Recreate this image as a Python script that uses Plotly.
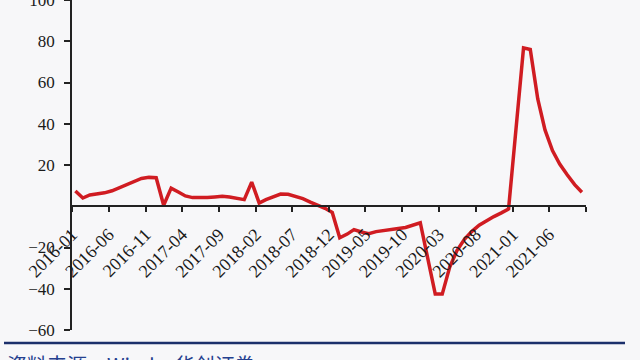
import pandas as pd
import plotly.graph_objects as go

# Monthly observations (Jan-2020 and Jan-2021 not reported)
months = [
    "2016-01", "2016-02", "2016-03", "2016-04", "2016-05", "2016-06",
    "2016-07", "2016-08", "2016-09", "2016-10", "2016-11", "2016-12",
    "2017-01", "2017-02", "2017-03", "2017-04", "2017-05", "2017-06",
    "2017-07", "2017-08", "2017-09", "2017-10", "2017-11", "2017-12",
    "2018-01", "2018-02", "2018-03", "2018-04", "2018-05", "2018-06",
    "2018-07", "2018-08", "2018-09", "2018-10", "2018-11", "2018-12",
    "2019-01", "2019-02", "2019-03", "2019-04", "2019-05", "2019-06",
    "2019-07", "2019-08", "2019-09", "2019-10", "2019-11", "2019-12",
    "2020-02", "2020-03", "2020-04", "2020-05", "2020-06",
    "2020-07", "2020-08", "2020-09", "2020-10", "2020-11", "2020-12",
    "2021-02", "2021-03", "2021-04", "2021-05", "2021-06",
    "2021-07", "2021-08", "2021-09", "2021-10",
]
values = [
    7.4, 4.0, 5.5, 6.0, 6.5, 7.5,
    9.0, 10.5, 12.3, 13.5, 14.0, 13.8,
    0.5, 8.8, 7.0, 5.0, 4.2, 4.0,
    4.2, 4.5, 4.8, 4.5, 3.8, 3.2,
    11.7, 1.6, 3.2, 4.8, 5.9, 5.8,
    4.8, 3.7, 2.0, 0.6, -1.0, -3.0,
    -15.3, -13.5, -11.3, -12.5, -13.3, -12.3,
    -11.7, -11.3, -10.8, -10.3, -9.3, -8.0,
    -42.6, -42.6, -29.5, -21.5, -16.0,
    -12.3, -9.2, -7.0, -5.0, -3.2, -1.3,
    76.8, 76.0, 52.0, 37.0, 27.0,
    20.5, 15.3, 10.5, 6.8,
]

x_tick_months = ["2016-01", "2016-06", "2016-11", "2017-04", "2017-09", "2018-02",
                 "2018-07", "2018-12", "2019-05", "2019-10", "2020-03", "2020-08",
                 "2021-01", "2021-06", "2021-11"]
x_tick_labels = ["2016-01", "2016-06", "2016-11", "2017-04", "2017-09", "2018-02",
                 "2018-07", "2018-12", "2019-05", "2019-10", "2020-03", "2020-08",
                 "2021-01", "2021-06", ""]
y_ticks = [-60, -40, -20, 20, 40, 60, 80, 100]
source_text = "资料来源：Wind，华创证券"

# mid-month positions for observations
x_dates = pd.to_datetime(months, format="%Y-%m") + pd.Timedelta(days=14)
tick_dates = pd.to_datetime(x_tick_months, format="%Y-%m")

y_min, y_max = -60, 100

fig = go.Figure()
fig.add_trace(go.Scatter(
    x=x_dates, y=values, mode="lines",
    line=dict(color="#d01c22", width=3.5),
    showlegend=False, hoverinfo="skip",
))

serif = "Liberation Serif, Times New Roman, serif"
fig.update_layout(
    width=640, height=360,
    margin=dict(l=72, r=54, t=0, b=30),
    paper_bgcolor="#f7f7f9", plot_bgcolor="#f7f7f9",
    xaxis=dict(
        type="date",
        range=[tick_dates[0], tick_dates[-1]],
        tickvals=tick_dates, ticktext=x_tick_labels,
        tickangle=-45,
        tickfont=dict(family=serif, size=18, color="#1a1a1a"),
        showgrid=False, zeroline=False,
        showline=True, linecolor="#222222", linewidth=1.5,
        ticks="outside", ticklen=5, tickcolor="#222222", tickwidth=1.5,
        anchor="free", position=(0 - y_min) / (y_max - y_min),
        ticklabelstandoff=5,
        automargin=False,
    ),
    yaxis=dict(
        range=[y_min, y_max],
        tickvals=y_ticks,
        tickfont=dict(family=serif, size=17, color="#1a1a1a"),
        showgrid=False, zeroline=False,
        showline=True, linecolor="#222222", linewidth=1.5,
        ticks="outside", ticklen=6, tickcolor="#222222", tickwidth=1.5,
        ticklabelstandoff=6, ticklabeloverflow="allow",
        automargin=False,
    ),
)

# footer rule and source note
fig.add_shape(type="line", xref="paper", yref="paper",
              x0=-68 / 514, x1=553 / 514, y0=-13 / 330, y1=-13 / 330,
              line=dict(color="#1b2f6b", width=2.5))
fig.add_annotation(text=source_text, xref="paper", yref="paper",
                   x=-67 / 514, y=-18 / 330, xanchor="left", yanchor="top",
                   showarrow=False,
                   font=dict(family="Noto Sans CJK SC", size=20, color="#25408f"))

fig.write_html("out.html", config={"displayModeBar": False},
               post_script="document.body.style.margin='0px';")
